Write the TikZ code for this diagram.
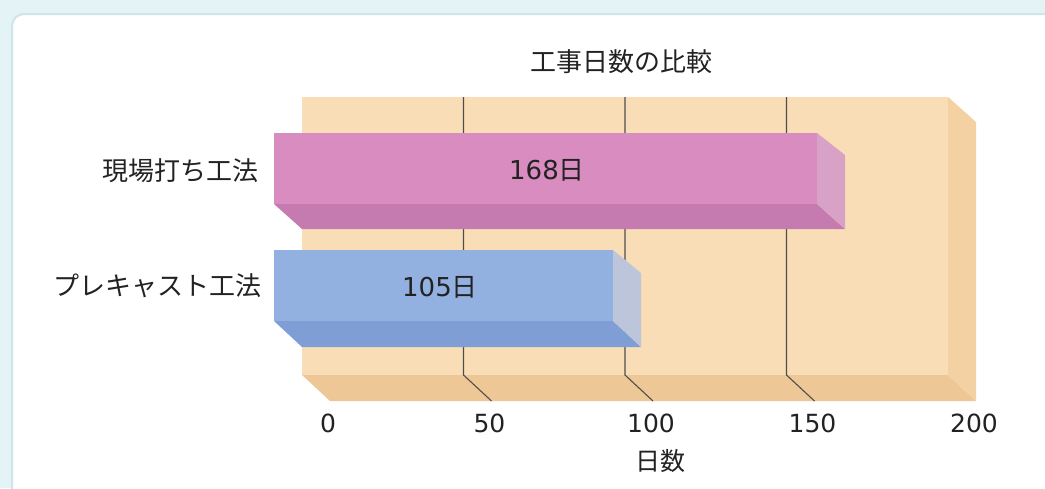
\documentclass[tikz,border=0pt]{standalone}
\usepackage{fontspec}
\setmainfont{Noto Sans CJK JP}
\newfontfamily\digitfont{DejaVu Sans}
\usepackage{tikz}

\definecolor{outside}{HTML}{E4F3F5}
\definecolor{cardline}{HTML}{CFE5EA}
\definecolor{wallback}{HTML}{F9DDB6}
\definecolor{wallfloor}{HTML}{EEC796}
\definecolor{wallside}{HTML}{F3D1A2}
\definecolor{pinkfront}{HTML}{D98CBF}
\definecolor{pinkbottom}{HTML}{C57BAF}
\definecolor{pinkside}{HTML}{D7A2C6}
\definecolor{bluefront}{HTML}{93B1E0}
\definecolor{bluebottom}{HTML}{7F9ED6}
\definecolor{blueside}{HTML}{BDC5DA}
\definecolor{inkgrey}{HTML}{222222}

\tikzset{
  catlabel/.style={anchor=east, text=inkgrey, font=\fontsize{26}{30}\selectfont},
  vallabel/.style={text=inkgrey, font=\fontsize{26}{30}\selectfont},
  ticklabel/.style={text=inkgrey, font=\fontsize{25}{30}\selectfont},
  gridline/.style={inkgrey!80, line width=1.1pt}
}

\begin{document}
\begin{tikzpicture}[x=1pt,y=-1pt]
\useasboundingbox (0,0) rectangle (1045,488);
\fill[outside] (0,0) rectangle (1045,488);
\filldraw[fill=white, draw=cardline, line width=2pt, rounded corners=12pt] (12,14) rectangle (1070,510);

% box behind the bars
\fill[wallback] (302,97) rectangle (948,375);
\fill[wallfloor] (302,375) -- (948,375) -- (976,401) -- (330,401) -- cycle;
\fill[wallside] (948,97) -- (976,122) -- (976,401) -- (948,375) -- cycle;

\foreach \k in {1,2,3} {
  \draw[gridline] ({302+161.5*\k},97) -- ({302+161.5*\k},375) -- ({330+161.5*\k},401);
}

% bars (back at 302, 3.23 per day, front shifted by -28,-25)
\fill[pinkbottom] (274,204) -- (817,204) -- (845,229) -- (302,229) -- cycle;
\fill[pinkside] (817,133) -- (845,155) -- (845,229) -- (817,204) -- cycle;
\fill[pinkfront] (274,133) rectangle (817,204);

\fill[bluebottom] (274,321) -- (613,321) -- (641,347) -- (302,347) -- cycle;
\fill[blueside] (613,250) -- (641,273) -- (641,347) -- (613,321) -- cycle;
\fill[bluefront] (274,250) rectangle (613,321);

\node[text=inkgrey, font=\fontsize{26}{30}\selectfont] (title) at (621,62) {工事日数の比較};

\node[catlabel] (genba) at (262,171) {現場打ち工法};
\node[catlabel] (pre) at (265,286) {プレキャスト工法};

\node[vallabel] (v168) at (547,170) {{\digitfont 168}日};
\node[vallabel] (v105) at (440,287) {{\digitfont 105}日};

\foreach \v [count=\k from 0] in {0,50,100,150,200} {
  \node[ticklabel] (t\k) at ({328+161.5*\k},423) {\digitfont\v};
}
\node[ticklabel] (axis) at (660,461) {日数};

\end{tikzpicture}
\end{document}
